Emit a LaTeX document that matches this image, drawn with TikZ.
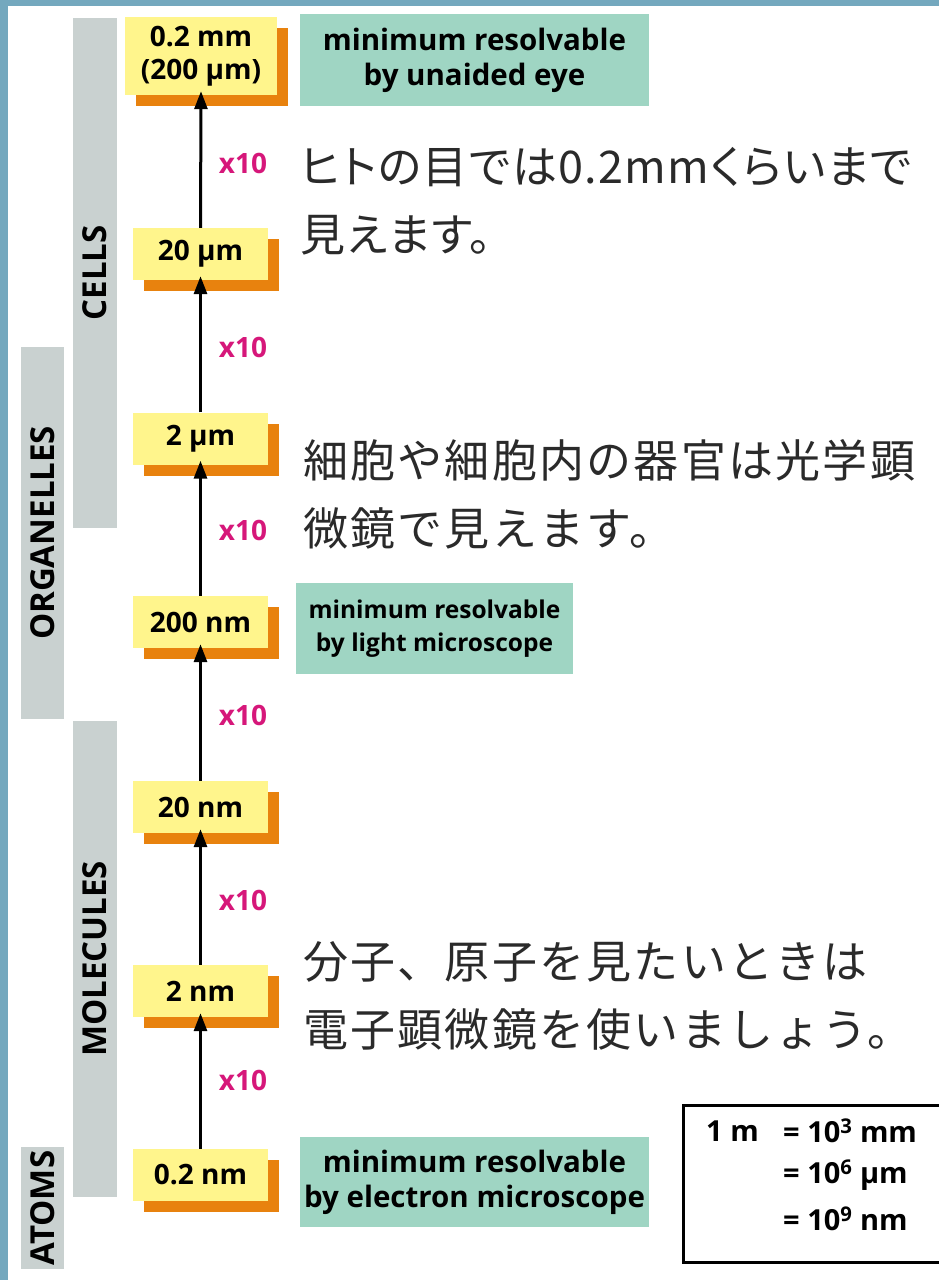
\documentclass[tikz,border=0pt]{standalone}
\usepackage{fontspec}
\setmainfont{Open Sans}
\newfontfamily\cjk{Noto Sans CJK JP}[RawFeature=+palt, LetterSpace=3]
\newfontfamily\cjkwide{Noto Sans CJK JP}[LetterSpace=5]
\usetikzlibrary{arrows.meta,shadows}
\definecolor{frameblue}{HTML}{74A8BE}
\definecolor{bargray}{HTML}{C9D1D0}
\definecolor{boxyellow}{HTML}{FFF58C}
\definecolor{shadoworange}{HTML}{E8820E}
\definecolor{mint}{HTML}{9FD5C3}
\definecolor{xmag}{HTML}{D6177A}
\definecolor{jtext}{HTML}{2A2A2A}
\tikzset{
  sizebox/.style={fill=boxyellow, minimum width=135pt, minimum height=52pt, inner sep=0pt,
    font=\bfseries\fontsize{28}{33}\selectfont, align=center,
    general shadow={shadow xshift=11pt, shadow yshift=-11pt, fill=shadoworange}},
  resbox/.style={fill=mint, inner sep=0pt, align=center, font=\bfseries\fontsize{29.5}{35}\selectfont},
  scalebar/.style={fill=bargray, rotate=90, inner sep=0pt, font=\bfseries\fontsize{33}{36}\selectfont},
  times/.style={text=xmag, font=\bfseries\fontsize{28}{30}\selectfont, inner sep=0pt},
  uparrow/.style={line width=3pt, -{Triangle[length=18pt,width=13pt]}, shorten >=-4pt},
  jnote/.style={text=jtext, anchor=west, align=left, inner sep=0pt, font=\cjk\fontsize{45}{68}\selectfont},
  jnotewide/.style={jnote, font=\cjkwide\fontsize{45}{68}\selectfont},
  unit/.style={anchor=west, inner sep=0pt, font=\bfseries\fontsize{29}{32}\selectfont}
}
\begin{document}
\begin{tikzpicture}[x=1pt,y=-1pt]
\clip (0,0) rectangle (939,1280);
\fill[white] (0,0) rectangle (939,1280);
\fill[frameblue] (0,0) rectangle (939,6);
\fill[frameblue] (0,0) rectangle (8,1280);

% category bars
\node[scalebar, minimum width=510pt, minimum height=44pt] (cells) at (95,273) {CELLS};
\node[scalebar, minimum width=372pt, minimum height=43pt] (organelles) at (42.5,533) {ORGANELLES};
\node[scalebar, minimum width=476pt, minimum height=44pt] (molecules) at (95,959) {MOLECULES};
\node[scalebar, minimum width=122pt, minimum height=43pt] (atoms) at (42.5,1208) {ATOMS};

% size boxes
\node[sizebox, minimum width=152pt, minimum height=78pt] (s1) at (201,56) {0.2 mm\\(200 µm)};
\node[sizebox] (s2) at (200.5,254) {20 µm};
\node[sizebox] (s3) at (200.5,438.5) {2 µm};
\node[sizebox] (s4) at (200.5,622) {200 nm};
\node[sizebox] (s5) at (200.5,807) {20 nm};
\node[sizebox] (s6) at (200.5,991) {2 nm};
\node[sizebox] (s7) at (200.5,1175) {0.2 nm};

% arrows
\draw[uparrow] (s2.north) -- (s1.south);
\draw[uparrow] (s3.north) -- (s2.south);
\draw[uparrow] (s4.north) -- (s3.south);
\draw[uparrow] (s5.north) -- (s4.south);
\draw[uparrow] (s6.north) -- (s5.south);
\draw[uparrow] (s7.north) -- (s6.south);

% x10 labels
\node[times] (t1) at (243,163) {x10};
\node[times] (t2) at (243,347) {x10};
\node[times] (t3) at (243,530) {x10};
\node[times] (t4) at (243,715) {x10};
\node[times] (t5) at (243,900) {x10};
\node[times] (t6) at (243,1080) {x10};

% resolution boxes
\node[resbox, minimum width=349pt, minimum height=92pt] (r1) at (474.5,60) {minimum resolvable\\by unaided eye};
\node[resbox, minimum width=277pt, minimum height=91pt, font=\bfseries\fontsize{24.5}{33}\selectfont] (r2) at (434.5,628.5) {minimum resolvable\\by light microscope};
\node[resbox, minimum width=349pt, minimum height=90pt] (r3) at (474.5,1182) {minimum resolvable\\by electron microscope};

% Japanese notes
\node[jnote] (n1) at (300,201) {ヒトの目では0.2mmくらいまで\\見えます。};
\node[jnotewide] (n2) at (303,494) {細胞や細胞内の器官は光学顕\\微鏡で見えます。};
\node[jnotewide] (n3) at (303,996) {分子、原子を見たいときは\\電子顕微鏡を使いましょう。};

% unit box
\node[draw, line width=3pt, minimum width=265pt, minimum height=157pt, inner sep=0pt] (units) at (815.5,1183.5) {};
\node[unit] (u1) at (706,1131) {1 m};
\node[unit] (u2) at (783,1131) {= 10\textsuperscript{3} mm};
\node[unit] (u3) at (783,1175) {= 10\textsuperscript{6} µm};
\node[unit] (u4) at (783,1219) {= 10\textsuperscript{9} nm};
\end{tikzpicture}
\end{document}
